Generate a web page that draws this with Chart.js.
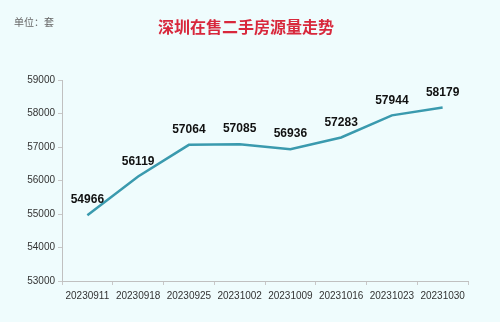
<!DOCTYPE html>
<html>
<head>
<meta charset="utf-8">
<script src="https://cdn.jsdelivr.net/npm/chart.js@4"></script>
<style>
  body { margin: 0; background: #effcfd; }
  canvas { display: block; }
</style>
</head>
<body>
<canvas id="myChart" width="500" height="322"></canvas>
<script>
const dates = ['20230911', '20230918', '20230925', '20231002', '20231009', '20231016', '20231023', '20231030'];
const listings = [54966, 56119, 57064, 57085, 56936, 57283, 57944, 58179];
const yMin = 53000;
const yMax = 59000;
const yStep = 1000;

const titleText = '深圳在售二手房源量走势';
const unitText = '单位：套';

// title, unit text and the value labels over each point
const extras = {
  id: 'extras',
  afterDatasetsDraw(chart) {
    const ctx = chart.ctx;
    ctx.save();
    ctx.textAlign = 'center';
    ctx.textBaseline = 'middle';
    ctx.fillStyle = '#d8283c';
    ctx.font = 'bold 16px "Noto Sans CJK SC"';
    ctx.fillText(titleText, 246, 27);

    ctx.textAlign = 'left';
    ctx.fillStyle = '#666';
    ctx.font = '10px "Noto Sans CJK SC"';
    ctx.fillText(unitText, 14, 22);

    ctx.textAlign = 'center';
    ctx.fillStyle = '#111';
    ctx.font = 'bold 12px "Liberation Sans"';
    const meta = chart.getDatasetMeta(0);
    meta.data.forEach((pt, i) => {
      ctx.fillText(listings[i], pt.x, pt.y - 15);
    });
    ctx.restore();
  }
};

const ctx = document.getElementById('myChart').getContext('2d');
const myChart = new Chart(ctx, {
  type: 'line',
  data: {
    labels: dates,
    datasets: [{
      data: listings,
      borderColor: '#3a9aae',
      borderWidth: 2.5,
      pointRadius: 0,
      tension: 0,
      fill: false
    }]
  },
  options: {
    responsive: false,
    animation: false,
    layout: { padding: { top: 80, right: 32, left: 0, bottom: 0 } },
    plugins: {
      legend: { display: false },
      tooltip: { enabled: false }
    },
    scales: {
      x: {
        offset: true,
        grid: { offset: true, drawOnChartArea: false, tickLength: 4, color: '#c8c8c8' },
        border: { color: '#c0c0c0' },
        ticks: { color: '#333', font: { family: 'Liberation Sans', size: 10 }, padding: 5, maxRotation: 0, autoSkip: false },
        afterFit(scale) { scale.height = 41; }
      },
      y: {
        min: yMin,
        max: yMax,
        grid: { drawOnChartArea: false, tickLength: 4, color: '#c8c8c8' },
        border: { color: '#c0c0c0' },
        ticks: {
          stepSize: yStep,
          color: '#333',
          font: { family: 'Liberation Sans', size: 10 },
          padding: 3,
          callback: v => String(v)
        },
        afterFit(scale) { scale.width = 62; }
      }
    }
  },
  plugins: [extras]
});
</script>
</body>
</html>
